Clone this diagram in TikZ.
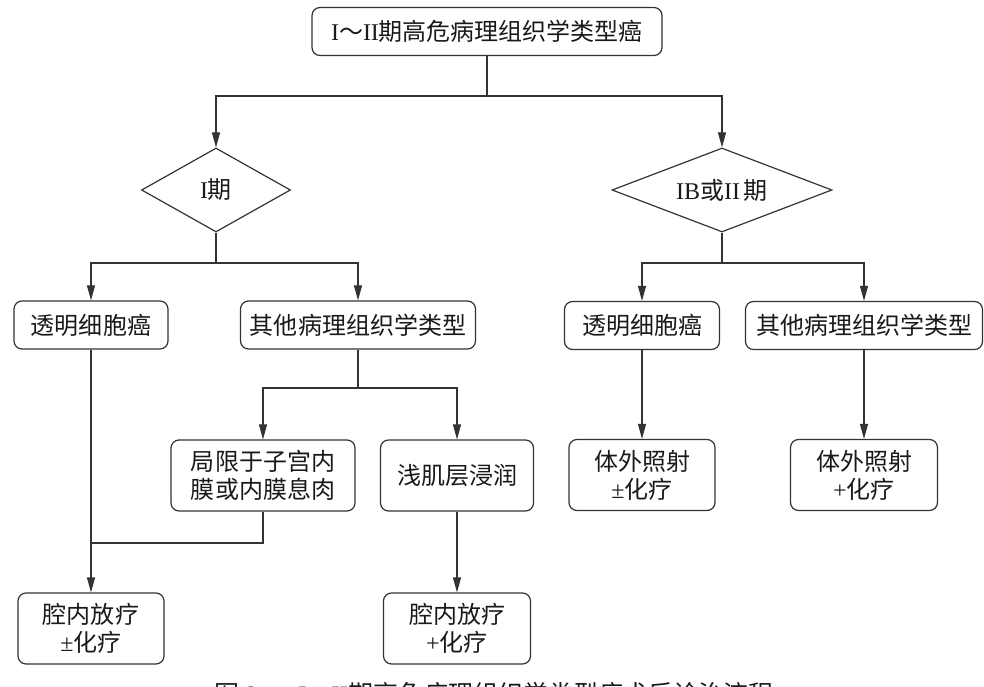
\documentclass[tikz,border=0pt]{standalone}
\usepackage{fontspec}
\setmainfont{Liberation Serif}
\newfontfamily\cjk{Noto Sans CJK SC}
\usetikzlibrary{arrows.meta}
\usetikzlibrary{shapes.geometric}
\definecolor{linegray}{rgb}{0.2, 0.2, 0.2}
\definecolor{inkblack}{rgb}{0.1, 0.1, 0.1}
\newcommand{\lat}[1]{{\rmfamily #1}}
\tikzset{box/.style = {draw=linegray, rounded corners=4bp, line width=0.6bp,
                       inner sep=0, minimum height=24bp, align=center,
                       text=inkblack, font=\cjk\fontsize{12bp}{14bp}\selectfont}}
\tikzset{tallbox/.style = {box, minimum height=35.5bp}}
\tikzset{decide/.style = {draw=linegray, diamond, line width=0.6bp, inner sep=0,
                          minimum height=42bp, text=inkblack,
                          font=\cjk\fontsize{12bp}{14bp}\selectfont}}
\tikzset{link/.style = {draw=linegray, line width=0.6bp}}
\tikzset{flow/.style = {link, -{Triangle[length=7.5bp,width=4bp]}}}

\begin{document}
\begin{tikzpicture}[x=0.5bp, y=-0.5bp]
      \useasboundingbox (0,0) rectangle (984,687);
      \clip (0,0) rectangle (984,687);
      \node[box, minimum width=175bp] (top) at (487,31.5)
        {\lat{I}～\lat{II}期高危病理组织学类型癌};
      \node[decide, shape aspect=1.76, minimum width=74.5bp] (stageI) at (216,190)
        {\lat{I}期};
      \node[decide, shape aspect=2.6, minimum width=110bp] (stageII) at (722,190)
        {\lat{IB}或\lat{II\,}期};
      \node[box, minimum width=77bp] (clearL) at (91,325) {透明细胞癌};
      \node[box, minimum width=117.5bp] (otherL) at (358,325) {其他病理组织学类型};
      \node[box, minimum width=77.5bp] (clearR) at (642,325.5) {透明细胞癌};
      \node[box, minimum width=118.5bp] (otherR) at (864,325.5) {其他病理组织学类型};
      \node[tallbox, minimum width=92bp] (endo) at (263,475.5)
        {局限于子宫内\\膜或内膜息肉};
      \node[tallbox, minimum width=76.5bp] (myo) at (457,475.5) {浅肌层浸润};
      \node[tallbox, minimum width=73bp] (extA) at (642,475) {体外照射\\\lat{±}化疗};
      \node[tallbox, minimum width=73.5bp] (extB) at (864,475) {体外照射\\\lat{+}化疗};
      \node[tallbox, minimum width=73bp] (radA) at (91,628.5) {腔内放疗\\\lat{±}化疗};
      \node[tallbox, minimum width=73.5bp] (radB) at (457,628.5) {腔内放疗\\\lat{+}化疗};
      \node[text=inkblack, font=\cjk\fontsize{12.5bp}{14bp}\selectfont] (caption)
        at (494,694) {图 \lat{2}\hspace{1.6em}\lat{I}～\lat{II}期高危病理组织学类型癌术后诊治流程};
      \coordinate (splitTop) at (487,96);
      \coordinate (splitI) at (216,263);
      \coordinate (splitII) at (722,263);
      \coordinate (splitOther) at (358,388);
      \coordinate (merge) at (91,543);
      \draw[link] (top.south) -- (splitTop);
      \draw[flow] (splitTop) -| (stageI.north);
      \draw[flow] (splitTop) -| (stageII.north);
      \draw[link] (stageI.south) -- (splitI);
      \draw[flow] (splitI) -| (clearL.north);
      \draw[flow] (splitI) -| (otherL.north);
      \draw[link] (stageII.south) -- (splitII);
      \draw[flow] (splitII) -| (clearR.north);
      \draw[flow] (splitII) -| (otherR.north);
      \draw[link] (otherL.south) -- (splitOther);
      \draw[flow] (splitOther) -| (endo.north);
      \draw[flow] (splitOther) -| (myo.north);
      \draw[flow] (clearL.south) -- (radA.north);
      \draw[link] (endo.south) |- (merge);
      \draw[flow] (myo.south) -- (radB.north);
      \draw[flow] (clearR.south) -- (extA.north);
      \draw[flow] (otherR.south) -- (extB.north);
    \end{tikzpicture}
\end{document}
